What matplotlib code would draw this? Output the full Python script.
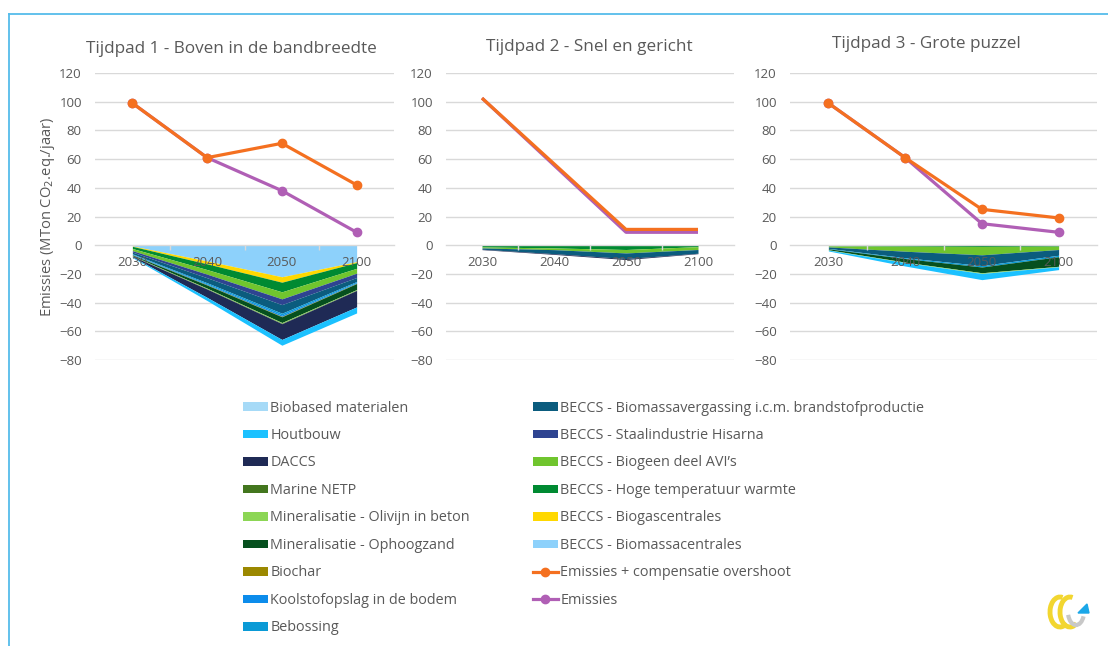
import numpy as np
import matplotlib.pyplot as plt
from matplotlib.patches import Patch, Arc, Polygon
from matplotlib.lines import Line2D

plt.rcParams['font.family'] = ['Open Sans', 'DejaVu Sans']

# -------------------------------------------------------
# data
# -------------------------------------------------------
years = ['2030', '2040', '2050', '2100']
titles = ['Tijdpad 1 - Boven in de bandbreedte',
          'Tijdpad 2 - Snel en gericht',
          'Tijdpad 3 - Grote puzzel']

# stacking order: from zero downward
stack_names = [
    'BECCS - Biomassacentrales',
    'BECCS - Biogascentrales',
    'BECCS - Hoge temperatuur warmte',
    'BECCS - Biogeen deel AVI\u2019s',
    'BECCS - Staalindustrie Hisarna',
    'BECCS - Biomassavergassing i.c.m. brandstofproductie',
    'Bebossing',
    'Koolstofopslag in de bodem',
    'Biochar',
    'Mineralisatie - Ophoogzand',
    'Mineralisatie - Olivijn in beton',
    'Marine NETP',
    'DACCS',
    'Houtbouw',
    'Biobased materialen',
]
stack_colors = [
    '#8DD1FB', '#FFD800', '#008A32', '#70C52E', '#2E4491', '#0B5C7E',
    '#0A9AD6', '#0C8CEB', '#9B8800', '#06501E', '#8CD655', '#43761E',
    '#1F2A55', '#1BC1FF', '#A6DAF7',
]

# Tijdpad 1 (MTon CO2-eq./jaar), same order as stack_names
p1_stack = [
    [-0.5, -11.0, -22.0, -11.5],
    [-0.3, -2.0, -3.8, -0.6],
    [-1.5, -4.0, -6.7, -4.0],
    [-1.5, -3.2, -4.9, -3.4],
    [-1.0, -2.5, -4.0, -3.0],
    [-1.2, -3.5, -6.0, -2.8],
    [-0.4, -0.8, -1.2, -0.7],
    [-0.3, -0.6, -1.0, -0.5],
    [-0.1, -0.2, -0.3, -0.2],
    [-0.5, -2.2, -4.0, -4.2],
    [-0.2, -0.4, -0.5, -0.4],
    [-0.1, -0.2, -0.3, -0.2],
    [-0.5, -5.8, -11.0, -11.5],
    [-0.5, -2.2, -4.0, -4.2],
    [0.0, 0.0, 0.0, 0.0],
]
p2_stack = [
    [0.0, 0.0, 0.0, 0.0],
    [0.0, 0.0, 0.0, 0.0],
    [-1.2, -1.9, -3.0, -1.0],
    [-0.7, -1.2, -2.4, -2.0],
    [0.0, 0.0, 0.0, 0.0],
    [-0.9, -2.8, -3.9, -2.6],
    [0.0, 0.0, 0.0, 0.0],
    [0.0, 0.0, 0.0, 0.0],
    [0.0, 0.0, 0.0, 0.0],
    [0.0, 0.0, 0.0, 0.0],
    [0.0, 0.0, 0.0, 0.0],
    [0.0, 0.0, 0.0, 0.0],
    [-0.3, -0.5, -0.7, -0.3],
    [0.0, 0.0, 0.0, 0.0],
    [0.0, 0.0, 0.0, 0.0],
]
p3_stack = [
    [0.0, 0.0, 0.0, 0.0],
    [0.0, 0.0, 0.0, 0.0],
    [-0.5, -0.7, -0.9, -0.7],
    [-0.7, -3.5, -5.8, -2.3],
    [0.0, 0.0, 0.0, 0.0],
    [-1.0, -4.5, -7.5, -4.0],
    [-0.3, -0.6, -1.0, -1.0],
    [0.0, 0.0, 0.0, 0.0],
    [0.0, 0.0, 0.0, 0.0],
    [-0.7, -2.5, -4.0, -6.7],
    [-0.2, -0.3, -0.5, -0.3],
    [0.0, 0.0, 0.0, 0.0],
    [0.0, 0.0, 0.0, 0.0],
    [-0.6, -2.4, -4.3, -2.0],
    [0.0, 0.0, 0.0, 0.0],
]

# lines
p1_overshoot = [99, 61, 71, 42]
p1_emissies = [99, 61, 38, 9]
p2_overshoot = [102.5, np.nan, 11, 11]
p2_emissies = [102.5, np.nan, 9, 9]
p3_overshoot = [99, 61, 25, 19]
p3_emissies = [99, 61, 15, 9]

# legend order (column-major, as in the reference)
legend_col1 = ['Biobased materialen', 'Houtbouw', 'DACCS', 'Marine NETP',
               'Mineralisatie - Olivijn in beton', 'Mineralisatie - Ophoogzand',
               'Biochar', 'Koolstofopslag in de bodem', 'Bebossing']
legend_col2 = ['BECCS - Biomassavergassing i.c.m. brandstofproductie',
               'BECCS - Staalindustrie Hisarna', 'BECCS - Biogeen deel AVI\u2019s',
               'BECCS - Hoge temperatuur warmte', 'BECCS - Biogascentrales',
               'BECCS - Biomassacentrales']

ORANGE = '#F47020'
PURPLE = '#B05FB5'
GRID = '#D9D9D9'
TXT = '#595959'

# -------------------------------------------------------
# layout (pixel positions of the reference)
# -------------------------------------------------------
W, H = 1108, 646
fig = plt.figure(figsize=(W / 100, H / 100), dpi=100)
fig.patch.set_facecolor('white')

def fx(px):
    return px / W

def fy(py):
    return 1 - py / H

ax_pos = [(95, 394), (446, 734), (790, 1097)]
title_pos = [(231, 49), (589, 47), (926, 44)]
panels = [
    (p1_stack, p1_overshoot, p1_emissies, True),
    (p2_stack, p2_overshoot, p2_emissies, False),
    (p3_stack, p3_overshoot, p3_emissies, True),
]

x = np.arange(len(years))
for k, (stack, over, emis, markers) in enumerate(panels):
    l, r = ax_pos[k]
    ax = fig.add_axes([fx(l), fy(360), fx(r - l), (360 - 73) / H])
    ax.set_xlim(-0.5, 3.5)
    ax.set_ylim(-80, 120)

    # gridlines behind the areas
    for gy in range(-80, 121, 20):
        if gy != 0:
            ax.axhline(gy, color=GRID, lw=1.0, zorder=0)

    base = np.zeros(len(years))
    for vals, col in zip(stack, stack_colors):
        v = np.array(vals, dtype=float)
        if np.all(v == 0):
            continue
        ax.fill_between(x, base, base + v, color=col, lw=0, zorder=1)
        base = base + v

    over = np.array(over, dtype=float)
    emis = np.array(emis, dtype=float)
    m = ~np.isnan(over)
    mk = 'o' if markers else None
    ax.plot(x[m], emis[m], color=PURPLE, lw=2.3, marker=mk, ms=6,
            zorder=3, solid_capstyle='butt')
    ax.plot(x[m], over[m], color=ORANGE, lw=2.3, marker=mk, ms=6,
            zorder=4, solid_capstyle='butt')

    for s in ['top', 'right', 'left']:
        ax.spines[s].set_visible(False)
    ax.spines['bottom'].set_position(('data', 0))
    ax.spines['bottom'].set_color(GRID)
    ax.spines['bottom'].set_linewidth(1.0)
    ax.spines['bottom'].set_zorder(2.5)
    ax.xaxis.set_zorder(5)

    ax.set_xticks(x)
    ax.set_xticklabels(years)
    ax.set_xticks([0.5, 1.5, 2.5], minor=True)
    ax.tick_params(axis='x', which='major', length=0, pad=8,
                   labelsize=9.5, labelcolor=TXT)
    ax.tick_params(axis='x', which='minor', length=3.5, width=1.0,
                   color=GRID, direction='out')
    ax.set_yticks(range(-80, 121, 20))
    ax.tick_params(axis='y', length=0, pad=9.5, labelsize=9.5, labelcolor=TXT)

    tx, ty = title_pos[k]
    fig.text(fx(tx), fy(ty), titles[k], ha='center', va='center',
             fontsize=12.3, color=TXT)

fig.text(fx(48), fy(217), 'Emissies (MTon CO$_2$.eq./jaar)', rotation=90,
         ha='center', va='center', fontsize=10.6, color=TXT)

# -------------------------------------------------------
# legend
# -------------------------------------------------------
color_of = dict(zip(stack_names, stack_colors))
h1 = [Patch(facecolor=color_of[n], edgecolor='none', label=n) for n in legend_col1]
h2 = [Patch(facecolor=color_of[n], edgecolor='none', label=n) for n in legend_col2]
h2 += [Line2D([], [], color=ORANGE, lw=2.3, marker='o', ms=6,
              label='Emissies + compensatie overshoot'),
       Line2D([], [], color=PURPLE, lw=2.3, marker='o', ms=6, label='Emissies')]

leg_kw = dict(loc='upper left', frameon=False, fontsize=10.4, borderpad=0,
              borderaxespad=0, handlelength=1.7, handleheight=0.55,
              handletextpad=0.2, labelspacing=0.865, labelcolor=TXT)
fig.legend(handles=h1, bbox_to_anchor=(fx(243), fy(400.5)), **leg_kw)
fig.legend(handles=h2, bbox_to_anchor=(fx(533), fy(400.5)), **leg_kw)

# -------------------------------------------------------
# slide frame and logo
# -------------------------------------------------------
frame_col = '#55BCEB'
fig.add_artist(Line2D([fx(9), 1], [fy(14), fy(14)], color=frame_col, lw=1.3))
fig.add_artist(Line2D([fx(9), fx(9)], [0, fy(14)], color=frame_col, lw=1.3))

lax = fig.add_axes([fx(1040), fy(635), fx(55), 50 / H])
lax.set_xlim(0, 55)
lax.set_ylim(0, 50)
lax.set_aspect('equal')
lax.axis('off')
lax.add_patch(Arc((20, 23), 20, 30, theta1=80, theta2=300, color='#F2D630', lw=3.5))
lax.add_patch(Arc((30, 23), 20, 30, theta1=80, theta2=300, color='#F2D630', lw=3.5))
lax.add_patch(Arc((36, 23), 16, 26, theta1=200, theta2=330, color='#C8C8C8', lw=3))
lax.add_patch(Polygon([[38, 22], [49, 22], [47, 31]], closed=True, color='#1BA7E8'))

fig.savefig('out.png', dpi=100)
